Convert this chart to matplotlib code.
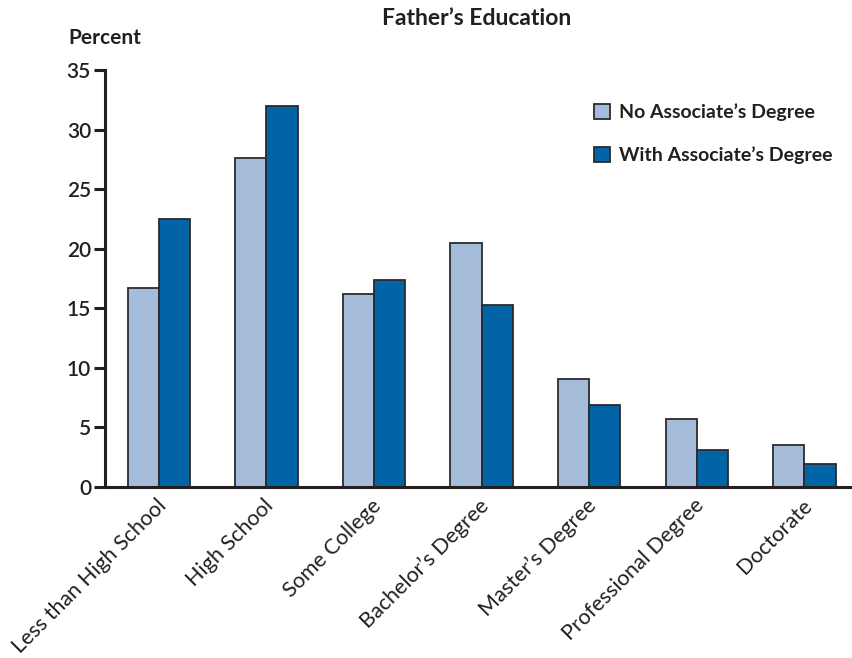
import numpy as np
import matplotlib.pyplot as plt
import matplotlib.transforms as mtransforms

categories = ["Less than High School", "High School", "Some College",
              "Bachelor\u2019s Degree", "Master\u2019s Degree",
              "Professional Degree", "Doctorate"]
no_assoc = [16.7, 27.6, 16.2, 20.5, 9.1, 5.7, 3.5]
with_assoc = [22.5, 32.0, 17.4, 15.3, 6.9, 3.1, 1.9]
series_names = ["No Associate\u2019s Degree", "With Associate\u2019s Degree"]

LIGHT = "#a5bcdb"
DARK = "#0064a6"
EDGE = "#2b2b2b"
TEXT = "#231f20"

plt.rcParams['font.family'] = ['Lato', 'DejaVu Sans']

fig = plt.figure(figsize=(8.52, 6.58), dpi=100)
ax = fig.add_axes([0.1232, 0.2599, 0.874, 0.6337])

x = np.arange(len(categories))
w = 0.29
ax.bar(x - w / 2, no_assoc, w, color=LIGHT, edgecolor=EDGE, linewidth=1.3,
       label=series_names[0])
ax.bar(x + w / 2, with_assoc, w, color=DARK, edgecolor=EDGE, linewidth=1.3,
       label=series_names[1])

ax.set_xlim(-0.5, 6.42)
ax.set_ylim(0, 35)
ax.set_yticks(range(0, 36, 5))
ax.tick_params(axis='y', length=8, width=2.2, color=TEXT, labelsize=15,
               labelcolor=TEXT, pad=2)
for lbl in ax.get_yticklabels():
    lbl.set_fontweight('semibold')
ax.tick_params(axis='x', length=0, pad=6)
ax.set_xticks(x)
ax.set_xticklabels(categories, rotation=45, ha='right', va='top',
                   rotation_mode='anchor', fontsize=15.5, color=TEXT)

for s in ['top', 'right']:
    ax.spines[s].set_visible(False)
for s in ['left', 'bottom']:
    ax.spines[s].set_linewidth(2.2)
    ax.spines[s].set_color(TEXT)

# move the rotated labels a little so they end near the group centre
offset = mtransforms.ScaledTranslation(-2 / 72, 0, fig.dpi_scale_trans)
for lbl in ax.get_xticklabels():
    lbl.set_transform(lbl.get_transform() + offset)

fig.text(0.56, 0.972, "Father\u2019s Education", ha='center', va='center',
         fontsize=16.5, fontweight='bold', color=TEXT)
fig.text(0.08, 0.942, "Percent", ha='left', va='center',
         fontsize=15, fontweight='bold', color=TEXT)

leg = ax.legend(loc='upper left', bbox_to_anchor=(0.633, 0.962), frameon=False,
                handlelength=0.85, handleheight=0.85,
                handletextpad=0.45, labelspacing=1.3,
                prop={'weight': 'bold', 'size': 14})
for t in leg.get_texts():
    t.set_color(TEXT)

fig.savefig("out.png", dpi=100)
